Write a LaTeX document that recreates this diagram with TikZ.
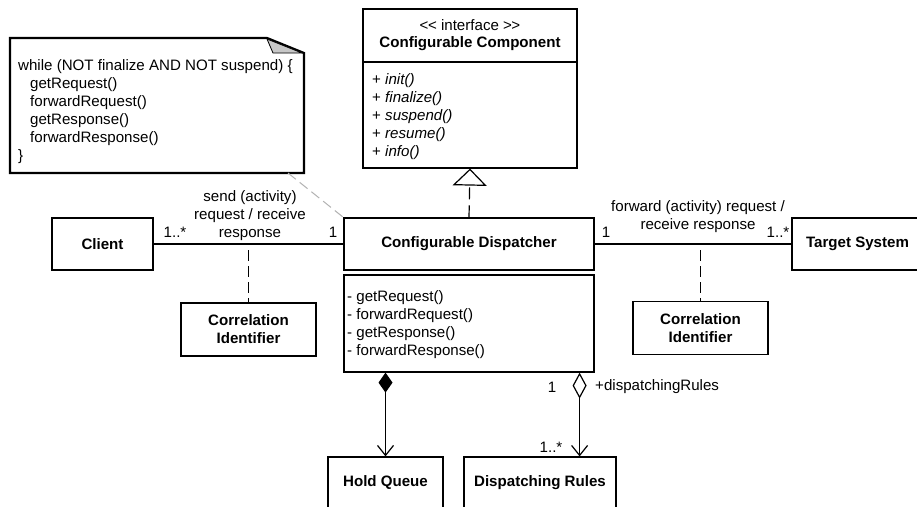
\documentclass[tikz,border=0pt]{standalone}
\usepackage{fontspec}
\setmainfont{Liberation Sans}
\usetikzlibrary{arrows.meta}
\begin{document}
\begin{tikzpicture}[x=1pt,y=-1pt,
  every node/.style={font=\fontsize{15.1}{18}\selectfont, inner sep=0pt},
  cls/.style={draw, line width=1.2pt, fill=white, font=\fontsize{15.1}{18}\selectfont\bfseries, align=center},
  txt/.style={align=left, anchor=north west},
  lbl/.style={align=center},
  link/.style={line width=1.2pt},
  assocdash/.style={line width=1.2pt, dash pattern=on 11pt off 5pt},
  notedash/.style={line width=1pt, draw=black!30, dash pattern=on 10pt off 5pt}
]
\useasboundingbox[fill=white] (0,0) rectangle (917,506);

% note with folded corner
\draw[line width=2.2pt, fill=white, line join=miter]
  (10,38) -- (267,38) -- (304,53) -- (304,173) -- (10,173) -- cycle;
\draw[line width=0.8pt, fill=black!22] (267,39) -- (273,53) -- (302,53) -- cycle;
\coordinate (notecorner) at (288,173);
\node[txt] (notetext) at (18,59) {while (NOT finalize AND NOT suspend) \{\\
\hspace*{12pt}getRequest()\\
\hspace*{12pt}forwardRequest()\\
\hspace*{12pt}getResponse()\\
\hspace*{12pt}forwardResponse()\\
\}};

% interface
\node[cls, minimum width=214pt, minimum height=159pt] (iface) at (470,88.5) {};
\draw[line width=1.2pt] (iface.west |- 0,62) -- (iface.east |- 0,62);
\node (stereo) at (470,25) {\mbox{<}\kern-0.5pt\mbox{<} interface \mbox{>}\kern-0.5pt\mbox{>}};
\node[font=\fontsize{15.1}{18}\selectfont\bfseries] (ifname) at (470,44) {Configurable Component};
\node[txt] (ifops) at (372,73) {+ \textit{init()}\\
+ \textit{finalize()}\\
+ \textit{suspend()}\\
+ \textit{resume()}\\
+ \textit{info()}};

% dispatcher
\node[cls, minimum width=250pt, minimum height=52pt] (disp) at (469,244) {Configurable Dispatcher};
\node[cls, minimum width=250pt, minimum height=97pt] (ops) at (469,323.5) {};
\node[txt] (opstext) at (347,290) {- getRequest()\\
- forwardRequest()\\
- getResponse()\\
- forwardResponse()};

% neighbours
\node[cls, minimum width=101pt, minimum height=52pt] (client) at (102.5,244) {Client};
\node[cls, minimum width=131pt, minimum height=52pt] (target) at (857.5,244) {Target System};
\node[cls, minimum width=135pt, minimum height=53pt] (corrL) at (248.5,329.5) {Correlation\\Identifier};
\node[cls, minimum width=135pt, minimum height=53pt] (corrR) at (700.5,328) {Correlation\\Identifier};
\node[cls, minimum width=115pt, minimum height=52pt] (hq) at (385.5,483) {Hold Queue};
\node[cls, minimum width=152pt, minimum height=52pt] (dr) at (540,483) {Dispatching Rules};

% note anchor
\draw[notedash] (notecorner) -- (disp.north west);

% realization
\draw[line width=1.2pt, dash pattern=on 12pt off 6pt,
  -{Triangle[open, length=17pt, width=34pt, fill=white]}] (disp.north) -- (iface.south);

% associations
\draw[link] (client.east) -- (disp.west);
\draw[link] (disp.east) -- (target.west);
\coordinate (clink) at (248.5,250);
\coordinate (tlink) at (700.5,250);
\draw[assocdash] (clink) -- (corrL.north);
\draw[assocdash] (tlink) -- (corrR.north);

\node[lbl] (lblL) at (250,216) {send (activity)\\request / receive\\response};
\node[lbl] (lblR) at (698,216.5) {forward (activity) request /\\receive response};
\node (mcl) at (175,232) {1..*};
\node (mdl) at (333,232) {1};
\node (mdr) at (606,232) {1};
\node (mtr) at (778,232) {1..*};

% composition and aggregation
\draw[link, {Diamond[length=20pt, width=14pt]}-{Straight Barb[length=10pt, width=16pt]}]
  (hq.north |- ops.south) -- (hq.north);
\coordinate (aggtop) at ([xshift=-15pt]ops.south east);
\draw[link, {Diamond[open, length=26pt, width=14pt, fill=white]}-{Straight Barb[length=10pt, width=16pt]}]
  (aggtop) -- (aggtop |- dr.north);
\node (magg) at (552,387) {1};
\node[anchor=west] (rolename) at (595,387) {+dispatchingRules};
\node (mdr2) at (551,447) {1..*};
\end{tikzpicture}
\end{document}
